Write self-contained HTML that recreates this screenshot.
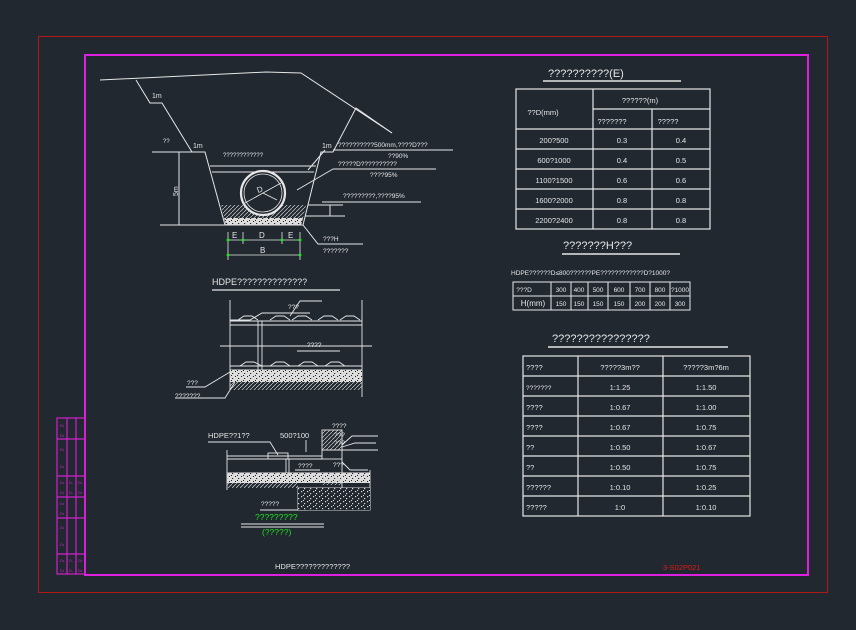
<!DOCTYPE html>
<html><head><meta charset="utf-8"><style>
html,body{margin:0;padding:0;background:#212830;}
svg{display:block}
text{font-family:"Liberation Sans","Noto Sans CJK SC",sans-serif;fill:#e6e6e6;}
</style></head><body>
<svg width="856" height="630" viewBox="0 0 856 630" xmlns="http://www.w3.org/2000/svg">
<defs>
<pattern id="hatch" width="4" height="4" patternUnits="userSpaceOnUse"><path d="M0 4L4 0" stroke="#cfcfcf" stroke-width="0.7"/></pattern>
<pattern id="dots" width="6" height="5" patternUnits="userSpaceOnUse"><rect width="6" height="5" fill="#dcdcdc"/><rect x="1" y="1" width="1" height="1" fill="#222"/><rect x="4" y="3" width="1.2" height="1" fill="#222"/><rect x="3" y="0" width="1" height="1" fill="#222"/></pattern>
<pattern id="dots2" width="6" height="5" patternUnits="userSpaceOnUse"><rect width="6" height="5" fill="#212830"/><rect x="1" y="1" width="1.2" height="1.2" fill="#ddd"/><rect x="4" y="3" width="1.2" height="1.2" fill="#ddd"/><rect x="3" y="0" width="1" height="1" fill="#ddd"/></pattern>
</defs>
<rect x="38.5" y="36.5" width="789" height="556" fill="none" stroke="#b01818" stroke-width="1"/>
<rect x="85" y="55" width="723" height="520" fill="none" stroke="#e020e0" stroke-width="2"/>
<!-- title block -->
<g stroke="#d020d0" stroke-width="1.2" fill="none">
<rect x="57" y="418" width="28" height="156"/>
<line x1="67" y1="418" x2="67" y2="574"/><line x1="76" y1="418" x2="76" y2="574"/>
<line x1="57" y1="439" x2="85" y2="439"/><line x1="57" y1="476" x2="85" y2="476"/>
<line x1="57" y1="497" x2="85" y2="497"/><line x1="57" y1="518" x2="85" y2="518"/>
<line x1="57" y1="554" x2="85" y2="554"/>
</g>
<g fill="#d020d0" font-size="4">
<text x="60" y="427" style="fill:#d020d0">D•</text><text x="60" y="437" style="fill:#d020d0">D•</text>
<text x="60" y="451" style="fill:#d020d0">D•</text><text x="60" y="468" style="fill:#d020d0">D•</text>
<text x="60" y="484" style="fill:#d020d0">D•</text><text x="69" y="484" style="fill:#d020d0">D-</text><text x="78" y="484" style="fill:#d020d0">D•</text>
<text x="60" y="494" style="fill:#d020d0">D•</text><text x="69" y="494" style="fill:#d020d0">D-</text><text x="78" y="494" style="fill:#d020d0">D•</text>
<text x="60" y="505" style="fill:#d020d0">D•</text><text x="60" y="515" style="fill:#d020d0">D•</text>
<text x="60" y="529" style="fill:#d020d0">D•</text><text x="60" y="546" style="fill:#d020d0">D•</text>
<text x="60" y="562" style="fill:#d020d0">D•</text><text x="69" y="562" style="fill:#d020d0">D-</text><text x="78" y="562" style="fill:#d020d0">O•</text>
<text x="60" y="572" style="fill:#d020d0">D•</text><text x="69" y="572" style="fill:#d020d0">D-</text><text x="78" y="572" style="fill:#d020d0">D•</text>
</g>

<!-- trench drawing -->
<g stroke="#e6e6e6" stroke-width="1" fill="none">
<polyline points="100,80 266,72 301,73 392,133"/>
<polyline points="136,80 150,103 162,103 192,152 205,152 225,225 303,225 321,152 333,152 356,108 392,133"/>
<line x1="152" y1="152" x2="192" y2="152"/>
<line x1="333" y1="150" x2="453" y2="150"/>
<line x1="210" y1="166" x2="316" y2="166"/>
<line x1="212" y1="172" x2="314" y2="172"/>
<line x1="333" y1="169" x2="436" y2="169"/>
<line x1="322" y1="202" x2="421" y2="202"/>
<line x1="308" y1="205" x2="343" y2="205"/>
<line x1="305" y1="216" x2="345" y2="216"/>
<line x1="160" y1="225" x2="226" y2="225"/>
<line x1="179" y1="152" x2="179" y2="225"/>
<line x1="330" y1="205" x2="330" y2="216"/>
<polyline points="303,225 318,244 363,244"/>
<line x1="308" y1="170" x2="325" y2="150"/>
<line x1="297" y1="190" x2="333" y2="169"/>
</g>
<polygon points="221,205 306,205 303,218 224,218" fill="url(#hatch)"/>
<polygon points="224,218 303,218 301,225 226,225" fill="url(#dots)"/>
<circle cx="263" cy="193" r="22" fill="#212830" stroke="#e6e6e6" stroke-width="2.2"/>
<circle cx="263" cy="193" r="19" fill="none" stroke="#e6e6e6" stroke-width="0.8"/>
<g stroke="#e6e6e6" stroke-width="0.8"><line x1="245" y1="203" x2="281" y2="183"/><line x1="263" y1="193" x2="277" y2="200"/></g>
<text x="258" y="193" font-size="8" transform="rotate(-20 258 193)">D</text>
<g stroke="#e6e6e6" stroke-width="0.8">
<line x1="228" y1="232" x2="228" y2="260"/><line x1="243" y1="232" x2="243" y2="244"/><line x1="282" y1="232" x2="282" y2="244"/><line x1="300" y1="232" x2="300" y2="260"/>
<line x1="228" y1="240" x2="300" y2="240"/><line x1="228" y1="255" x2="300" y2="255"/>
</g>
<g fill="#20e020"><circle cx="228" cy="240" r="1.5"/><circle cx="243" cy="240" r="1.5"/><circle cx="282" cy="240" r="1.5"/><circle cx="300" cy="240" r="1.5"/><circle cx="228" cy="255" r="1.5"/><circle cx="300" cy="255" r="1.5"/></g>
<g font-size="8">
<text x="232" y="238">E</text><text x="259" y="238">D</text><text x="288" y="238">E</text><text x="260" y="253">B</text>
<text x="152" y="98" font-size="7">1m</text><text x="193" y="148" font-size="7">1m</text><text x="322" y="148" font-size="7">1m</text>
<text x="163" y="143" font-size="6">??</text>
<text x="178" y="196" font-size="7" transform="rotate(-90 178 196)">5m</text>
<text x="223" y="157" font-size="6">????????????</text>
<text x="338" y="147" font-size="6.5">??????????500mm,????D???</text>
<text x="388" y="158" font-size="6.5">??90%</text>
<text x="338" y="166" font-size="6.5">?????D??????????</text>
<text x="370" y="177" font-size="6.5">????95%</text>
<text x="343" y="198" font-size="6.5">?????????,????95%</text>
<text x="323" y="241" font-size="6.5">???H</text>
<text x="323" y="253" font-size="6.5">???????</text>
</g>

<!-- HDPE pipe detail -->
<text x="212" y="285" font-size="9">HDPE??????????????</text>
<line x1="212" y1="290" x2="340" y2="290" stroke="#e6e6e6" stroke-width="1.2"/>
<g stroke="#e6e6e6" stroke-width="0.9" fill="none">
<line x1="230" y1="300" x2="230" y2="390"/><line x1="362" y1="300" x2="362" y2="397"/>
<line x1="230" y1="321" x2="362" y2="321"/><line x1="230" y1="325" x2="362" y2="325"/>
<line x1="220" y1="346" x2="372" y2="346"/>
<line x1="230" y1="366" x2="362" y2="366"/><line x1="230" y1="370" x2="362" y2="370"/>
<line x1="258" y1="321" x2="258" y2="370"/><line x1="262" y1="321" x2="262" y2="370"/>
<polyline points="230,320 250,320 262,313 310,313"/>
<polyline points="238,320 244,316 252,316 258,320"/><polyline points="270,320 276,316 284,316 290,320"/><polyline points="292,320 298,316 306,316 312,320"/><polyline points="318,320 324,316 332,316 338,320"/><polyline points="340,320 346,316 354,316 360,320"/>
<polyline points="240,366 246,362 254,362 262,366"/><polyline points="270,366 276,362 284,362 290,366"/><polyline points="298,366 304,362 312,362 318,366"/><polyline points="325,366 331,362 339,362 345,366"/>
<line x1="298" y1="346" x2="340" y2="346"/><line x1="297" y1="351" x2="340" y2="351"/>
<polyline points="322,301 300,301 290,316"/>
<polyline points="186,387 205,387 230,372"/><polyline points="175,398 225,398 235,382"/>
</g>
<rect x="230" y="370" width="132" height="12" fill="url(#dots)"/>
<rect x="230" y="382" width="132" height="8" fill="url(#hatch)"/>
<text x="288" y="309" font-size="6.5">???</text>
<text x="307" y="347" font-size="6.5">????</text>
<text x="187" y="385" font-size="6.5">???</text>
<text x="175" y="398" font-size="6.5">???????</text>

<!-- joint detail -->
<g stroke="#e6e6e6" stroke-width="0.9" fill="none">
<line x1="227" y1="450" x2="227" y2="490"/>
<line x1="227" y1="456" x2="322" y2="456"/><line x1="227" y1="459" x2="322" y2="459"/>
<line x1="227" y1="473" x2="370" y2="473"/>
<rect x="268" y="453" width="20" height="6"/>
<line x1="286" y1="459" x2="286" y2="473"/><line x1="289" y1="459" x2="289" y2="473"/>
<rect x="322" y="430" width="20" height="20"/>
<rect x="322" y="450" width="20" height="9"/>
<line x1="342" y1="459" x2="342" y2="510"/>
<rect x="298" y="488" width="72" height="22"/>
<line x1="370" y1="470" x2="370" y2="510"/>
<polyline points="208,442 270,442 278,455"/>
<line x1="306" y1="440" x2="306" y2="452"/>
<polyline points="342,445 352,436 378,436"/><polyline points="342,447 355,443 376,443"/><polyline points="342,450 358,450 378,450"/>
<polyline points="342,462 350,470 368,470"/>
<line x1="295" y1="470" x2="320" y2="470"/>
<polyline points="260,510 308,510 325,500"/>
</g>
<rect x="322" y="430" width="20" height="20" fill="url(#hatch)"/>
<rect x="227" y="473" width="143" height="10" fill="url(#dots)"/>
<rect x="227" y="483" width="71" height="5" fill="url(#hatch)"/>
<rect x="298" y="488" width="72" height="22" fill="url(#dots2)"/>
<rect x="322" y="477" width="20" height="8" fill="url(#hatch)"/>
<g font-size="6.5">
<text x="208" y="438" font-size="7.5">HDPE??1??</text>
<text x="280" y="438" font-size="7.5">500?100</text>
<text x="332" y="428">????</text><text x="334" y="437">???</text><text x="334" y="445">???</text>
<text x="333" y="467">???</text><text x="298" y="468">????</text>
<text x="261" y="506">?????</text>
</g>
<text x="255" y="520" font-size="8.5" style="fill:#20e020">?????????</text>
<line x1="241" y1="524" x2="324" y2="524" stroke="#e6e6e6" stroke-width="1"/><line x1="241" y1="527" x2="324" y2="527" stroke="#e6e6e6" stroke-width="1"/>
<text x="262" y="535" font-size="8.5" style="fill:#20e020">(?????)</text>
<text x="275" y="569" font-size="7.5">HDPE?????????????</text>

<!-- table 1 -->
<text x="548" y="77" font-size="11">??????????(E)</text>
<line x1="543" y1="81" x2="681" y2="81" stroke="#e6e6e6" stroke-width="1.5"/>
<g stroke="#e6e6e6" stroke-width="1.2" fill="none">
<rect x="516" y="89" width="194" height="140"/>
<line x1="593" y1="89" x2="593" y2="229"/><line x1="652" y1="109" x2="652" y2="229"/>
<line x1="593" y1="109" x2="710" y2="109"/>
<line x1="516" y1="129" x2="710" y2="129"/><line x1="516" y1="149" x2="710" y2="149"/><line x1="516" y1="169" x2="710" y2="169"/><line x1="516" y1="189" x2="710" y2="189"/><line x1="516" y1="209" x2="710" y2="209"/>
</g>
<g font-size="7.5" text-anchor="middle">
<text x="543" y="115">??D(mm)</text><text x="640" y="103">??????(m)</text>
<text x="612" y="124">???????</text><text x="668" y="124">?????</text>
<text x="554" y="143">200?500</text><text x="622" y="143">0.3</text><text x="681" y="143">0.4</text>
<text x="554" y="163">600?1000</text><text x="622" y="163">0.4</text><text x="681" y="163">0.5</text>
<text x="554" y="183">1100?1500</text><text x="622" y="183">0.6</text><text x="681" y="183">0.6</text>
<text x="554" y="203">1600?2000</text><text x="622" y="203">0.8</text><text x="681" y="203">0.8</text>
<text x="554" y="223">2200?2400</text><text x="622" y="223">0.8</text><text x="681" y="223">0.8</text>
</g>
<text x="563" y="249" font-size="11">???????H???</text>
<line x1="562" y1="254" x2="680" y2="254" stroke="#e6e6e6" stroke-width="1.5"/>
<text x="511" y="275" font-size="6.5">HDPE??????D≤800??????PE????????????D?1000?</text>
<g stroke="#e6e6e6" stroke-width="1" fill="none">
<rect x="513" y="282" width="177" height="28"/>
<line x1="513" y1="296" x2="690" y2="296"/>
<line x1="551" y1="282" x2="551" y2="310"/><line x1="571" y1="282" x2="571" y2="310"/><line x1="588" y1="282" x2="588" y2="310"/><line x1="608" y1="282" x2="608" y2="310"/><line x1="630" y1="282" x2="630" y2="310"/><line x1="650" y1="282" x2="650" y2="310"/><line x1="670" y1="282" x2="670" y2="310"/>
</g>
<g font-size="6.5" text-anchor="middle">
<text x="524" y="292">???D</text><text x="561" y="292">300</text><text x="579" y="292">400</text><text x="598" y="292">500</text><text x="619" y="292">600</text><text x="640" y="292">700</text><text x="660" y="292">800</text><text x="680" y="292">?1000</text>
<text x="533" y="306" font-size="8">H(mm)</text><text x="561" y="306">150</text><text x="579" y="306">150</text><text x="598" y="306">150</text><text x="619" y="306">150</text><text x="640" y="306">200</text><text x="660" y="306">200</text><text x="680" y="306">300</text>
</g>

<!-- table 3 -->
<text x="552" y="342" font-size="11">????????????????</text>
<line x1="548" y1="347" x2="728" y2="347" stroke="#e6e6e6" stroke-width="1.5"/>
<g stroke="#e6e6e6" stroke-width="1.2" fill="none">
<rect x="523" y="356" width="227" height="160"/>
<line x1="578" y1="356" x2="578" y2="516"/><line x1="663" y1="356" x2="663" y2="516"/>
<line x1="523" y1="376" x2="750" y2="376"/><line x1="523" y1="396" x2="750" y2="396"/><line x1="523" y1="416" x2="750" y2="416"/><line x1="523" y1="436" x2="750" y2="436"/><line x1="523" y1="456" x2="750" y2="456"/><line x1="523" y1="476" x2="750" y2="476"/><line x1="523" y1="496" x2="750" y2="496"/>
</g>
<g font-size="7.5">
<text x="526" y="370">????</text><text x="526" y="390" font-size="6.5">???????</text><text x="526" y="410">????</text><text x="526" y="430">????</text><text x="526" y="450">??</text><text x="526" y="470">??</text><text x="526" y="490">??????</text><text x="526" y="510">?????</text>
</g>
<g font-size="7.5" text-anchor="middle">
<text x="620" y="370">?????3m??</text><text x="706" y="370">?????3m?6m</text>
<text x="620" y="390">1:1.25</text><text x="706" y="390">1:1.50</text>
<text x="620" y="410">1:0.67</text><text x="706" y="410">1:1.00</text>
<text x="620" y="430">1:0.67</text><text x="706" y="430">1:0.75</text>
<text x="620" y="450">1:0.50</text><text x="706" y="450">1:0.67</text>
<text x="620" y="470">1:0.50</text><text x="706" y="470">1:0.75</text>
<text x="620" y="490">1:0.10</text><text x="706" y="490">1:0.25</text>
<text x="620" y="510">1:0</text><text x="706" y="510">1:0.10</text>
</g>
<text x="663" y="570" font-size="7.5" style="fill:#e01818">3-S02P021</text>
</svg>
</body></html>
